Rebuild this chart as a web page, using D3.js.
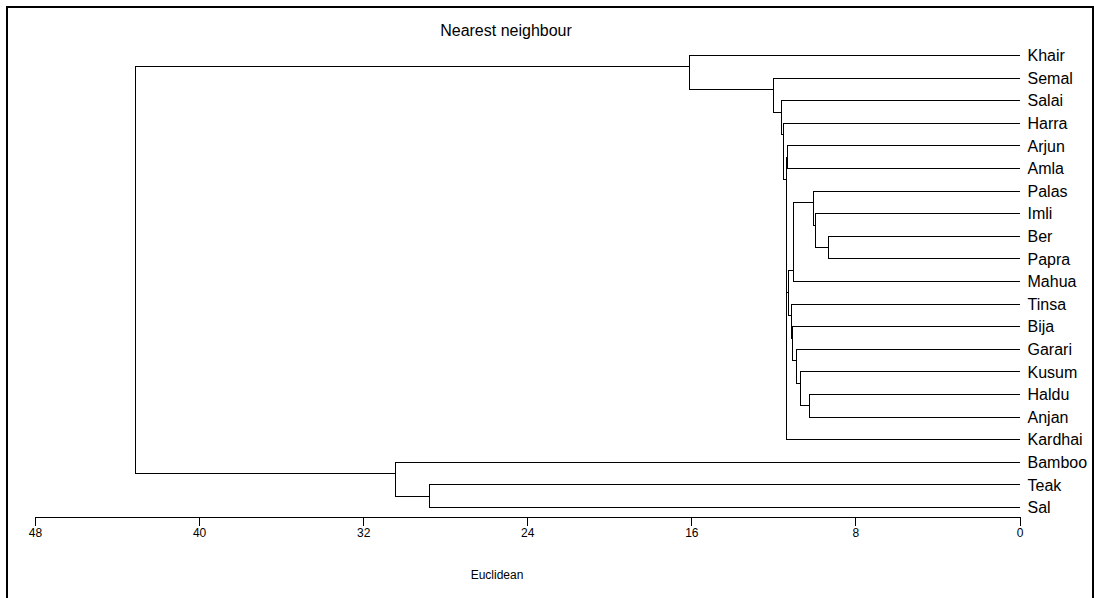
<!DOCTYPE html>
<html>
<head>
<meta charset="utf-8">
<script src="https://d3js.org/d3.v7.min.js"></script>
<style>
  body { margin: 0; background: #fff; }
  svg { display: block; font-family: "Liberation Sans", Arial, Helvetica, sans-serif; }
  .link { fill: none; stroke: #000; stroke-width: 1; shape-rendering: crispEdges; }
  .axis path, .axis line { stroke: #000; shape-rendering: crispEdges; }
  .axis text { font-size: 12px; fill: #000; }
</style>
</head>
<body>
<div class="chart"></div>
<script>
// leaves, top to bottom as drawn
var leaves = ["Khair", "Semal", "Salai", "Harra", "Arjun", "Amla", "Palas", "Imli", "Ber", "Papra",
              "Mahua", "Tinsa", "Bija", "Garari", "Kusum", "Haldu", "Anjan", "Kardhai", "Bamboo", "Teak", "Sal"];

// merges: [child a, child b, distance]; ids 0..20 are leaves, node 21 is the first merge, etc.
var mergeA = [8, 7, 6, 15, 14, 13, 23, 12, 11, 27, 4, 30, 31, 3, 2, 1, 0, 19, 18, 37];
var mergeB = [9, 21, 22, 16, 24, 25, 10, 26, 28, 29, 5, 17, 32, 33, 34, 35, 36, 20, 38, 39];
var mergeH = [9.30, 9.95, 10.03, 10.23, 10.68, 10.88, 11.00, 11.09, 11.14, 11.25, 11.30, 11.34,
              11.38, 11.52, 11.58, 12.0, 16.08, 28.77, 30.42, 43.12];

var axisTicks = [48, 40, 32, 24, 16, 8, 0];

var W = 1094, H = 598;

var x = d3.scaleLinear().domain([48, 0]).range([35, 1019.5]);
var y = d3.scaleLinear().domain([0, leaves.length - 1]).range([55.5, 507.5]);

var svg = d3.select(".chart").append("svg")
    .attr("width", W)
    .attr("height", H);

// frame
svg.append("rect")
    .attr("x", 7).attr("y", 7)
    .attr("width", 1086).attr("height", 620)
    .attr("fill", "none").attr("stroke", "#000").attr("stroke-width", 2);

// build nodes
var nodes = leaves.map(function(name, i) {
    return { name: name, h: 0, first: i, last: i, yj: y(i) };
});
mergeA.forEach(function(a, k) {
    var na = nodes[a], nb = nodes[mergeB[k]];
    var top = na.first < nb.first ? na : nb;
    var bot = top === na ? nb : na;
    nodes.push({
        h: mergeH[k], a: top, b: bot,
        first: top.first, last: bot.last,
        // joint sits at the split between the two children
        yj: (y(top.last) + y(bot.first)) / 2
    });
});

var g = svg.append("g");
nodes.slice(leaves.length).forEach(function(n) {
    var xn = x(n.h);
    g.append("path").attr("class", "link")
        .attr("d", "M" + x(n.a.h) + "," + n.a.yj + "H" + xn + "V" + n.b.yj + "H" + x(n.b.h));
});

// leaf labels
svg.selectAll(".leaf")
    .data(leaves)
  .enter().append("text")
    .attr("class", "leaf")
    .attr("x", x(0) + 8)
    .attr("y", function(d, i) { return y(i); })
    .attr("dy", "0.36em")
    .style("font-size", "16px")
    .text(function(d) { return d; });

// axis
svg.append("g")
    .attr("class", "axis")
    .attr("transform", "translate(0,516.5)")
    .call(d3.axisBottom(x).tickValues(axisTicks).tickSize(9).tickSizeOuter(0).tickPadding(3));

svg.append("text")
    .attr("x", 506).attr("y", 30)
    .attr("dy", "0.36em")
    .attr("text-anchor", "middle")
    .style("font-size", "16px")
    .text("Nearest neighbour");

svg.append("text")
    .attr("x", 497).attr("y", 575)
    .attr("dy", "0.36em")
    .attr("text-anchor", "middle")
    .style("font-size", "12px")
    .text("Euclidean");
</script>
</body>
</html>
